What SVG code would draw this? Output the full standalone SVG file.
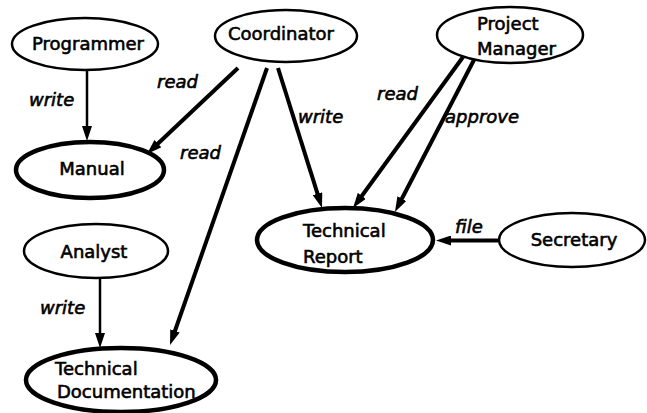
<svg xmlns="http://www.w3.org/2000/svg" width="647" height="413" viewBox="0 0 647 413">
<style>
.bg{fill:#fff}
.n{fill:#fff;stroke:#000;stroke-width:2.5}
.nt{fill:#fff;stroke:#000;stroke-width:4.5}
.t{font-family:"DejaVu Sans","Liberation Sans",sans-serif;font-size:18px;fill:#000;stroke:#000;stroke-width:0.6}
.l{font-family:"DejaVu Sans","Liberation Sans",sans-serif;font-size:18px;font-style:italic;fill:#000;stroke:#000;stroke-width:0.6}
.e{fill:none;stroke:#000;stroke-width:4}
.e2{fill:none;stroke:#000;stroke-width:2.5}
</style>
<defs>
<marker id="ah" markerUnits="userSpaceOnUse" markerWidth="16" markerHeight="10" refX="6" refY="5" orient="auto">
<path d="M0,0 L15,5 L0,10 Z" fill="#000"/>
</marker>
</defs>
<rect class="bg" x="0" y="0" width="647" height="413"/>
<g id="connectors">
<line class="e2" x1="87" y1="71" x2="87" y2="132" marker-end="url(#ah)"/>
<line class="e" x1="238" y1="68" x2="153.5" y2="147.8" marker-end="url(#ah)"/>
<line class="e" x1="267" y1="68" x2="173" y2="336.5" marker-end="url(#ah)"/>
<line class="e" x1="278" y1="68" x2="319.3" y2="199.4" marker-end="url(#ah)"/>
<line class="e" x1="463" y1="57" x2="358.3" y2="200.7" marker-end="url(#ah)"/>
<line class="e" x1="475" y1="58" x2="399.1" y2="204" marker-end="url(#ah)"/>
<line class="e" x1="498" y1="240.5" x2="445" y2="240.5" marker-end="url(#ah)"/>
<line class="e2" x1="100" y1="278" x2="100" y2="339" marker-end="url(#ah)"/>
<text class="l" x="29" y="106">write</text>
<text class="l" x="157" y="88">read</text>
<text class="l" x="180" y="159">read</text>
<text class="l" x="298" y="123">write</text>
<text class="l" x="377" y="100">read</text>
<text class="l" x="445" y="123">approve</text>
<text class="l" x="455" y="233">file</text>
<text class="l" x="40" y="314">write</text>
</g>
<g id="programmer">
<ellipse class="n" cx="85" cy="44" rx="73" ry="26"/>
<text class="t" x="88" y="50" text-anchor="middle">Programmer</text>
</g>
<g id="coordinator">
<ellipse class="n" cx="286" cy="36" rx="71" ry="26"/>
<text class="t" x="281" y="40" text-anchor="middle">Coordinator</text>
</g>
<g id="project-manager">
<ellipse class="n" cx="510" cy="35" rx="73" ry="28"/>
<text class="t" x="477" y="30">Project</text>
<text class="t" x="477" y="55">Manager</text>
</g>
<g id="manual">
<ellipse class="nt" cx="90" cy="170" rx="74" ry="28"/>
<text class="t" x="92" y="175" text-anchor="middle">Manual</text>
</g>
<g id="technical-report">
<ellipse class="nt" cx="345" cy="240" rx="88" ry="32"/>
<text class="t" x="303" y="237">Technical</text>
<text class="t" x="303" y="263">Report</text>
</g>
<g id="secretary">
<ellipse class="n" cx="572" cy="240" rx="73" ry="27"/>
<text class="t" x="574" y="246" text-anchor="middle">Secretary</text>
</g>
<g id="analyst">
<ellipse class="n" cx="96" cy="251" rx="72" ry="27"/>
<text class="t" x="94" y="258" text-anchor="middle">Analyst</text>
</g>
<g id="technical-documentation">
<ellipse class="nt" cx="121" cy="380" rx="95" ry="32"/>
<text class="t" x="55" y="375">Technical</text>
<text class="t" x="57" y="398">Documentation</text>
</g>
</svg>
